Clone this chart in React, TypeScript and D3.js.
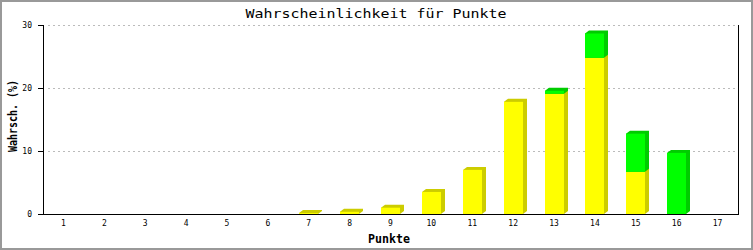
import React from "react";
import * as d3 from "d3";

const categories = ["1","2","3","4","5","6","7","8","9","10","11","12","13","14","15","16","17"];
const yellowValues = [0,0,0,0,0,0,0.15,0.35,1.0,3.5,7.0,17.8,19.1,24.8,6.7,0,0];
const greenValues = [0,0,0,0,0,0,0,0,0,0,0,0,0.45,3.85,6.05,9.7,0];
const yTicks = [0,10,20,30];

const W = 753, H = 250;
const left = 43, right = 738, top = 25, bottom = 214;

export default function App() {
  const x = d3.scaleBand<string>().domain(categories).range([left, right]).padding(0);
  const y = d3.scaleLinear().domain([0, 30]).range([bottom, top]);
  const bw = x.bandwidth() * 0.465;
  const dx = 4, dy = 3;
  const mono = "'DejaVu Sans Mono', monospace";

  const seg = (key: string, xc: number, v0: number, v1: number, front: string, side: string) => {
    if (v1 - v0 <= 0) return null;
    const x0 = Math.round(xc - bw / 2);
    const x1 = Math.round(xc + bw / 2);
    const yt = y(v1), yb = y(v0);
    const pts = [
      [x0, yt], [x0 + dx, yt - dy], [x1 + dx, yt - dy], [x1 + dx, yb - dy], [x1, yb], [x0, yb]
    ].map(p => p.join(",")).join(" ");
    return (
      <g key={key}>
        <polygon points={pts} fill={side} />
        <rect x={x0} y={yt} width={x1 - x0} height={yb - yt} fill={front} />
      </g>
    );
  };

  return (
    <svg width={W} height={H} style={{ position: "absolute", left: 0, top: 0 }}>
      <rect x={0} y={0} width={W} height={H} fill="#fff" />
      <rect x={1} y={1} width={W - 2} height={H - 2} fill="none" stroke="#999" strokeWidth={2} />
      {yTicks.filter(t => t > 0).map(t => (
        <line key={"g" + t} x1={left + 5} x2={right} y1={Math.round(y(t)) + 0.5} y2={Math.round(y(t)) + 0.5}
          stroke="#bbb" strokeDasharray="2,3" />
      ))}
      {categories.map((c, i) => {
        const xc = (x(c) as number) + x.bandwidth() / 2;
        const yv = yellowValues[i], gv = greenValues[i];
        return (
          <g key={c}>
            {seg("y" + c, xc, 0, yv, "#ffff00", "#cccc00")}
            {seg("gr" + c, xc, yv, yv + gv, "#00ff00", "#00cc00")}
          </g>
        );
      })}
      <line x1={left + 0.5} x2={left + 0.5} y1={top} y2={bottom + 0.5} stroke="#000" />
      <line x1={right + 0.5} x2={right + 0.5} y1={top} y2={bottom + 0.5} stroke="#000" />
      <line x1={left - 5} x2={right + 1} y1={bottom + 0.5} y2={bottom + 0.5} stroke="#000" />
      {yTicks.map(t => (
        <g key={"t" + t}>
          <line x1={left - 5} x2={left} y1={Math.round(y(t)) + 0.5} y2={Math.round(y(t)) + 0.5} stroke="#000" />
          <text x={left - 11} y={y(t) + 3} textAnchor="end" fontFamily={mono} fontSize={8} fill="#000">{t}</text>
        </g>
      ))}
      {categories.map(c => (
        <text key={"l" + c} x={(x(c) as number) + x.bandwidth() / 2} y={226} textAnchor="middle"
          fontFamily={mono} fontSize={8} fill="#000">{c}</text>
      ))}
      <text x={376} y={18} textAnchor="middle" fontFamily={mono} fontSize={13} fill="#000"
        textLength={261} lengthAdjust="spacingAndGlyphs">Wahrscheinlichkeit für Punkte</text>
      <text x={389} y={243} textAnchor="middle" fontFamily={mono} fontSize={12} fontWeight="bold" fill="#000"
        textLength={42} lengthAdjust="spacingAndGlyphs">Punkte</text>
      <text transform={`translate(17,116) rotate(-90)`} textAnchor="middle" fontFamily={mono} fontSize={12}
        fontWeight="bold" fill="#000" textLength={72} lengthAdjust="spacingAndGlyphs">Wahrsch. (%)</text>
    </svg>
  );
}
